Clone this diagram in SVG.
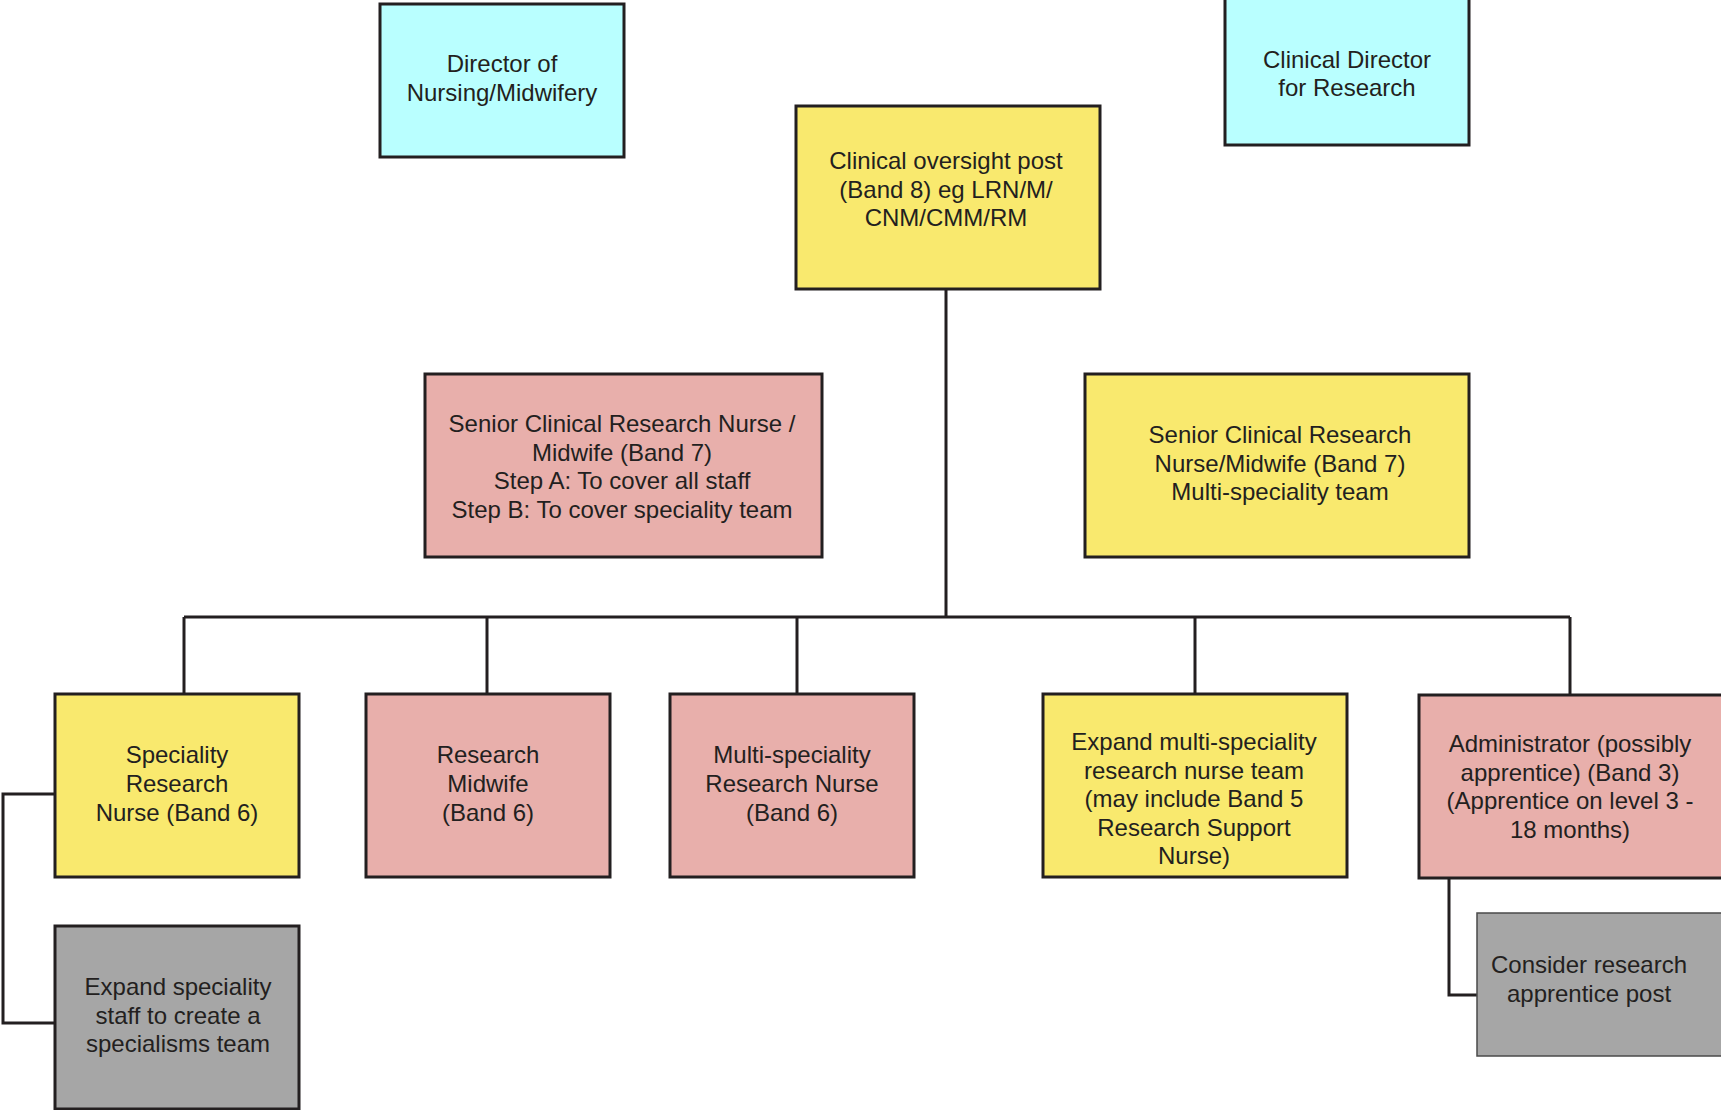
<svg xmlns="http://www.w3.org/2000/svg" width="1721" height="1110" viewBox="0 0 1721 1110">
<style>
  .box { stroke: #231f20; stroke-width: 3; }
  .cyan { fill: #b9ffff; }
  .yellow { fill: #f9e96e; }
  .pink { fill: #e8afab; }
  .gray { fill: #a6a6a6; }
  .thin { stroke: #4a4a4a; stroke-width: 1.5; }
  text { font-family: "Liberation Sans", Arial, sans-serif; font-size: 24px; fill: #231f20; text-anchor: middle; }
  .conn { fill: none; stroke: #231f20; stroke-width: 3; }
</style>
<rect width="1721" height="1110" fill="#ffffff"/>
<g id="connectors">
  <path class="conn" d="M946,289 V617"/>
  <path class="conn" d="M184,617 H1570"/>
  <path class="conn" d="M184,617 V694"/>
  <path class="conn" d="M487,617 V694"/>
  <path class="conn" d="M797,617 V694"/>
  <path class="conn" d="M1195,617 V694"/>
  <path class="conn" d="M1570,617 V695"/>
  <path class="conn" d="M55,794 H3 V1023 H55"/>
  <path class="conn" d="M1449,879 V995 H1477"/>
</g>
<g id="director-nursing">
  <rect class="box cyan" x="380" y="4" width="244" height="153"/>
  <text x="502" y="72">Director of</text>
  <text x="502" y="101">Nursing/Midwifery</text>
</g>
<g id="clinical-director-research">
  <rect class="box cyan" x="1225" y="-3" width="244" height="148"/>
  <text x="1347" y="68">Clinical Director</text>
  <text x="1347" y="96">for Research</text>
</g>
<g id="clinical-oversight">
  <rect class="box yellow" x="796" y="106" width="304" height="183"/>
  <text x="946" y="169">Clinical oversight post</text>
  <text x="946" y="198">(Band 8) eg LRN/M/</text>
  <text x="946" y="226">CNM/CMM/RM</text>
</g>
<g id="senior-pink">
  <rect class="box pink" x="425" y="374" width="397" height="183"/>
  <text x="622" y="432">Senior Clinical Research Nurse /</text>
  <text x="622" y="461">Midwife (Band 7)</text>
  <text x="622" y="489">Step A: To cover all staff</text>
  <text x="622" y="518">Step B: To cover speciality team</text>
</g>
<g id="senior-yellow">
  <rect class="box yellow" x="1085" y="374" width="384" height="183"/>
  <text x="1280" y="443">Senior Clinical Research</text>
  <text x="1280" y="472">Nurse/Midwife (Band 7)</text>
  <text x="1280" y="500">Multi-speciality team</text>
</g>
<g id="speciality-nurse">
  <rect class="box yellow" x="55" y="694" width="244" height="183"/>
  <text x="177" y="763">Speciality</text>
  <text x="177" y="792">Research</text>
  <text x="177" y="821">Nurse (Band 6)</text>
</g>
<g id="research-midwife">
  <rect class="box pink" x="366" y="694" width="244" height="183"/>
  <text x="488" y="763">Research</text>
  <text x="488" y="792">Midwife</text>
  <text x="488" y="821">(Band 6)</text>
</g>
<g id="multi-speciality-nurse">
  <rect class="box pink" x="670" y="694" width="244" height="183"/>
  <text x="792" y="763">Multi-speciality</text>
  <text x="792" y="792">Research Nurse</text>
  <text x="792" y="821">(Band 6)</text>
</g>
<g id="expand-multi">
  <rect class="box yellow" x="1043" y="694" width="304" height="183"/>
  <text x="1194" y="750">Expand multi-speciality</text>
  <text x="1194" y="779">research nurse team</text>
  <text x="1194" y="807">(may include Band 5</text>
  <text x="1194" y="836">Research Support</text>
  <text x="1194" y="864">Nurse)</text>
</g>
<g id="administrator">
  <rect class="box pink" x="1419" y="695" width="305" height="183"/>
  <text x="1570" y="752">Administrator (possibly</text>
  <text x="1570" y="781">apprentice) (Band 3)</text>
  <text x="1570" y="809">(Apprentice on level 3 -</text>
  <text x="1570" y="838">18 months)</text>
</g>
<g id="expand-speciality">
  <rect class="box gray" x="55" y="926" width="244" height="183"/>
  <text x="178" y="995">Expand speciality</text>
  <text x="178" y="1024">staff to create a</text>
  <text x="178" y="1052">specialisms team</text>
</g>
<g id="consider-apprentice">
  <rect class="gray thin" x="1477" y="913" width="250" height="143"/>
  <text x="1589" y="973">Consider research</text>
  <text x="1589" y="1002">apprentice post</text>
</g>
</svg>
